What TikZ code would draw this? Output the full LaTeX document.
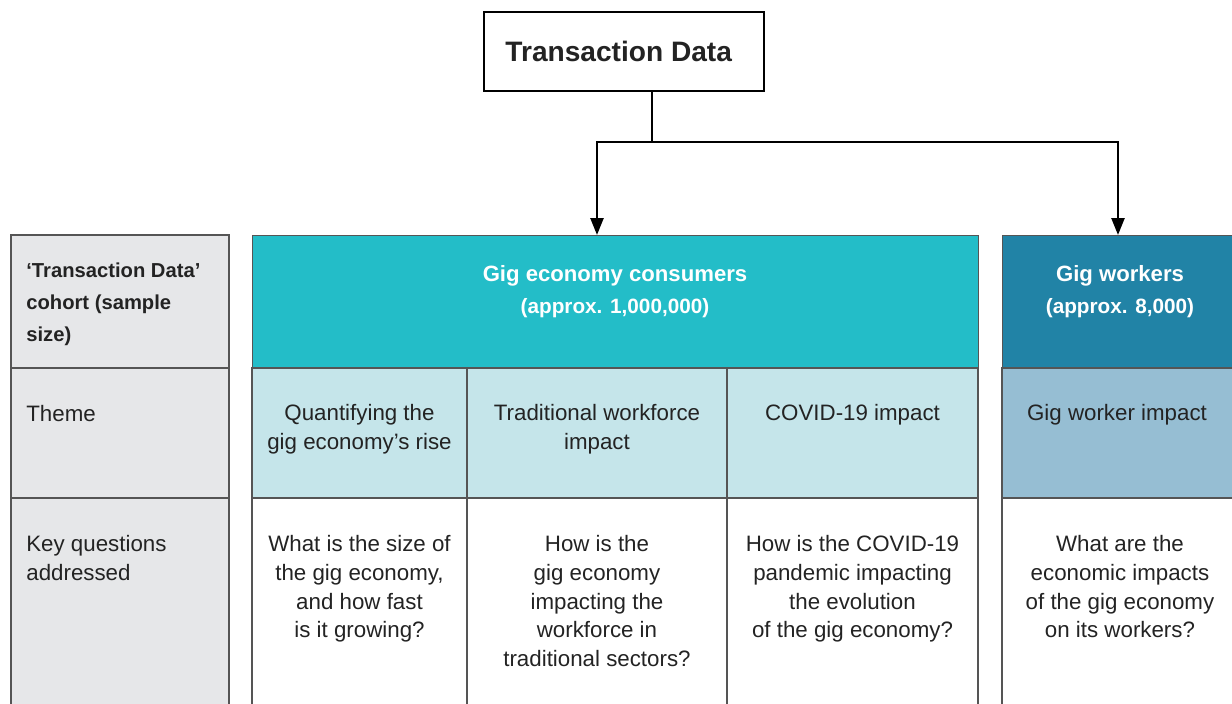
\documentclass[tikz,border=0pt]{standalone}
\usepackage{fontspec}
\setmainfont{Liberation Sans}
\usetikzlibrary{arrows.meta}

\definecolor{labelgray}{RGB}{230,231,233}
\definecolor{consteal}{RGB}{35,189,200}
\definecolor{conslight}{RGB}{197,229,234}
\definecolor{workteal}{RGB}{33,131,166}
\definecolor{worklight}{RGB}{150,190,211}
\definecolor{rulegray}{RGB}{85,85,85}
\definecolor{inkgray}{RGB}{35,35,35}

\begin{document}
\begin{tikzpicture}[x=0.02cm,y=-0.02cm,
    cell/.style={draw=rulegray, line width=0.8pt},
    flow/.style={draw=black, line width=1.4pt, -{Triangle[length=0.34cm,width=0.26cm]}},
    bodytext/.style={text=inkgray, font=\fontsize{12.7}{16.4}\selectfont, inner sep=0pt, anchor=north},
    headtext/.style={text=white, font=\bfseries\fontsize{12.6}{18}\selectfont, inner sep=0pt, anchor=north},
    counttext/.style={headtext, font=\bfseries\fontsize{11.8}{14}\selectfont}]
    \useasboundingbox (0,0) rectangle (1232,704);
    \clip (0,0) rectangle (1232,704);

% left label column
\fill [labelgray] (11,235)  rectangle (229,720);
\draw [cell] (11,235)  rectangle (229,368);
\draw [cell] (11,368)  rectangle (229,498);
\draw [cell] (11,498)  rectangle (229,720);

% consumers block
\node [cell, fill=consteal, anchor=north west, minimum width=14.52cm, minimum height=2.66cm, inner sep=0pt] (cons) at (252,235) {};
\fill [conslight] (252,368) rectangle (978,498);
\draw [cell] (252,368) rectangle (467,498);
\draw [cell] (467,368) rectangle (727,498);
\draw [cell] (727,368) rectangle (978,498);
\draw [cell] (252,498) rectangle (467,720);
\draw [cell] (467,498) rectangle (727,720);
\draw [cell] (727,498) rectangle (978,720);

% workers block
\node [cell, fill=workteal, anchor=north west, minimum width=5.2cm, minimum height=2.66cm, inner sep=0pt] (work) at (1002,235) {};
\draw [cell, fill=worklight] (1002,368) rectangle (1262,498);
\draw [cell] (1002,498) rectangle (1262,720);

% title and arrows
\node [draw=black, line width=1.2pt, fill=white, minimum width=5.6cm, minimum height=1.58cm,
       font=\bfseries\fontsize{16}{20}\selectfont, text=inkgray] (td) at (624,51.5) {\hspace*{-6pt}\raisebox{-1.5pt}{Transaction Data}};
\coordinate (fork) at (652,142);
\coordinate (consin) at (597,235);
\coordinate (workin) at (1118,235);
\draw [line width=1.4pt] (td.south -| fork) -- (fork);
\draw [flow] (fork) -| (consin);
\draw [flow] (fork) -| (workin);

% header texts
\node [headtext]  (cons_t) at (615,265)  {Gig economy consumers};
\node [counttext] (cons_n) at (615,298)  {(approx. 1,000,000)};
\node [headtext]  (work_t) at (1120,265) {Gig workers};
\node [counttext] (work_n) at (1120,298) {(approx. 8,000)};

% row labels
\node [bodytext, anchor=north west, align=left, font=\bfseries\fontsize{11.5}{18.1}\selectfont] (lab_0) at (26,263) {‘Transaction Data’\\cohort (sample\\size)};
\node [bodytext, anchor=north west] (lab_1) at (26,405) {Theme};
\node [bodytext, anchor=north west, align=left] (lab_2) at (26,535) {Key questions\\addressed};

% themes
\node [bodytext, align=center] (theme_0) at (359.5,404) {Quantifying the\\gig economy’s rise};
\node [bodytext, align=center] (theme_1) at (597,404)   {Traditional workforce\\impact};
\node [bodytext, align=center] (theme_2) at (852.5,404) {COVID-19 impact};
\node [bodytext, align=center] (theme_3) at (1117,404)  {Gig worker impact};

% key questions
\node [bodytext, align=center] (quest_0) at (359.5,535) {What is the size of\\the gig economy,\\and how fast\\is it growing?};
\node [bodytext, align=center] (quest_1) at (597,535)   {How is the\\gig economy\\impacting the\\workforce in\\traditional sectors?};
\node [bodytext, align=center] (quest_2) at (852.5,535) {How is the COVID-19\\pandemic impacting\\the evolution\\of the gig economy?};
\node [bodytext, align=center] (quest_3) at (1120,535)  {What are the\\economic impacts\\of the gig economy\\on its workers?};

\end{tikzpicture}
\end{document}
